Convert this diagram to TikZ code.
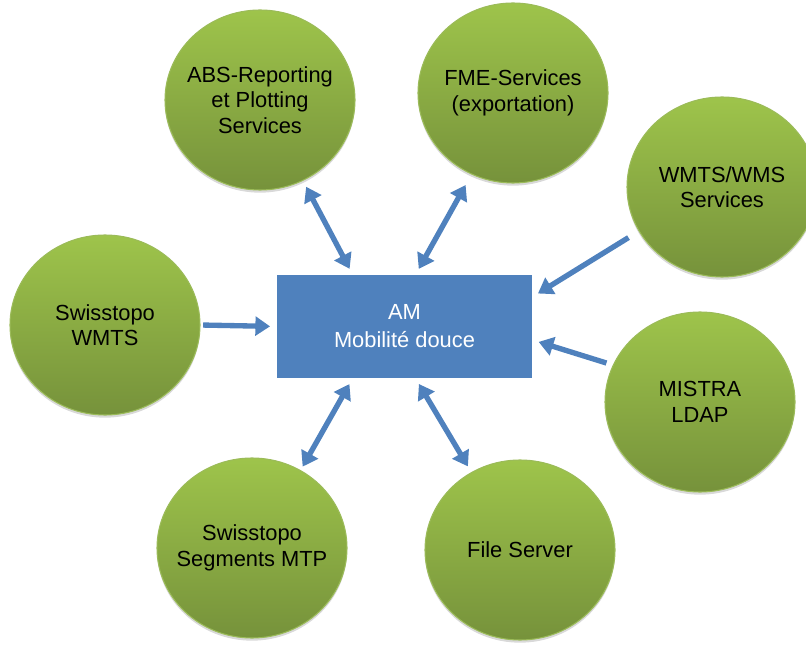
\documentclass[tikz,border=0pt]{standalone}
\usepackage{fontspec}
\setmainfont{Liberation Sans}
\usetikzlibrary{arrows.meta,shapes.geometric,shadows}
\definecolor{amblue}{RGB}{79,129,189}
\definecolor{gtop}{RGB}{158,196,75}
\definecolor{gbot}{RGB}{118,146,59}
\definecolor{grim}{RGB}{155,187,89}
\begin{document}
\begin{tikzpicture}[x=0.75pt,y=-0.75pt,
  svc/.style={shape=ellipse,minimum width=142.5pt,minimum height=135pt,inner sep=-12pt,
    top color=gtop,bottom color=gbot,draw=grim,line width=0.8pt,align=center,
    font=\fontsize{16.4}{19}\selectfont,
    drop shadow={shadow xshift=0pt,shadow yshift=-2pt,opacity=0.3}},
  core/.style={shape=rectangle,minimum width=191.25pt,minimum height=77.25pt,
    fill=amblue,text=white,align=center,font=\fontsize{16.4}{21}\selectfont},
  link/.style={draw=amblue,line width=4pt,shorten <=5pt,shorten >=5pt},
  one/.style={link,-{Triangle[width=14pt,length=11pt]}},
  two/.style={link,{Triangle[width=14pt,length=11pt]}-{Triangle[width=14pt,length=11pt]}}]
\useasboundingbox (0,0) rectangle (806,645);
\node[core] (AM) at (404.5,326.5) {AM\\Mobilité douce};
\node[svc] (ABS) at (260,100) {ABS-Reporting\\et Plotting\\Services};
\node[svc] (FME) at (513,93) {FME-Services\\(exportation)};
\node[svc] (WMS) at (722,187) {WMTS/WMS\\Services};
\node[svc] (SWM) at (105,325) {Swisstopo\\WMTS};
\node[svc] (LDAP) at (700,402) {MISTRA\\LDAP};
\node[svc] (MTP) at (252,548) {Swisstopo\\Segments MTP};
\node[svc] (FS) at (520,550) {File Server};
\path (ABS.-62) edge[two] (AM.135.6);
\path (FME.-117) edge[two,shorten <=9pt] (AM.78.5);
\path (WMS.208.5) edge[one,shorten <=9pt] (AM.13.9);
\path (SWM.east) edge[one,shorten <=2pt] (AM.west);
\path (LDAP.157.2) edge[one] (AM.-6.9);
\path (MTP.58.3) edge[two,shorten <=3pt] (AM.225.6);
\path (FS.122.9) edge[two] (AM.-78.5);
\end{tikzpicture}
\end{document}
